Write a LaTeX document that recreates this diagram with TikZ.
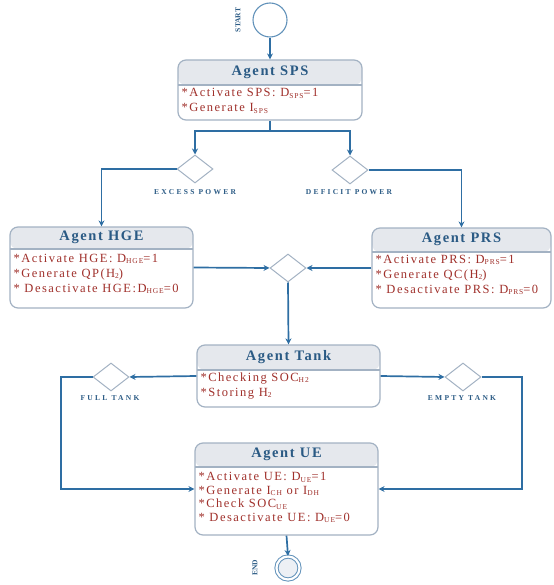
\documentclass[tikz,border=0pt]{standalone}
\usepackage{fontspec}
\setmainfont{Liberation Serif}
\newfontfamily\titlefont[LetterSpace=11]{Liberation Serif}
\newfontfamily\bodyfont[LetterSpace=12]{Liberation Serif}
\newfontfamily\lblfont[LetterSpace=30]{Liberation Serif}
\usetikzlibrary{shapes.geometric, arrows.meta}
\definecolor{flow}{HTML}{2E6EA3}
\definecolor{boxline}{HTML}{A3B2C3}
\definecolor{headfill}{HTML}{E5E8ED}
\definecolor{titleblue}{HTML}{2A5A84}
\definecolor{bodyred}{HTML}{A0302B}
\definecolor{endfill}{HTML}{EDF0F5}
\newcommand\lowsub[1]{\raisebox{-0.2ex}{\fontsize{7.5}{7.5}\selectfont #1}}

\begin{document}
\begin{tikzpicture}[x=1pt, y=-1pt, >={Stealth[length=6pt,width=6pt]},
    agent/.style={draw=boxline, line width=1.2pt, rounded corners=8pt, fill=white, inner sep=0pt},
    head/.style={path picture={
      \fill[headfill] (path picture bounding box.north west) rectangle ([yshift=-#1]path picture bounding box.north east);
      \draw[boxline, line width=1.2pt] ([yshift=-#1]path picture bounding box.north west) -- ([yshift=-#1]path picture bounding box.north east);}},
    title/.style={font=\titlefont\fontsize{14.5}{14.5}\selectfont\bfseries, text=titleblue, inner sep=0pt},
    body/.style={font=\bodyfont\fontsize{12.5}{15}\selectfont, text=bodyred, align=left, inner sep=1pt, anchor=north west},
    choice/.style={diamond, draw=boxline, line width=1pt, fill=white, minimum width=36pt, minimum height=28pt, inner sep=0pt},
    cond/.style={font=\lblfont\fontsize{7.5}{7.5}\selectfont\bfseries, text=titleblue, inner sep=0pt},
    flowline/.style={draw=flow, line width=1.7pt}]
  \useasboundingbox (0,0) rectangle (553,585);

  % start and end
  \node[circle, draw=flow!75, line width=1.1pt, fill=white, minimum size=34pt] (start) at (270,20) {};
  \node[cond, rotate=90, font=\fontsize{7.5}{7.5}\selectfont\bfseries] (startl) at (238,20) {START};
  \node[circle, draw=flow!75, line width=1pt, double=white, double distance=2.2pt, fill=endfill, minimum size=23pt] (finish) at (288,568) {};
  \node[cond, rotate=90, font=\fontsize{7.5}{7.5}\selectfont\bfseries] (finishl) at (255,568) {END};

  % agents
  \node[agent, head=25pt, minimum width=184pt, minimum height=60pt] (sps) at (270,90) {};
  \node[title] (spst) at ([yshift=-12.5pt]sps.north) {Agent SPS};
  \node[body] (spsb) at ([xshift=3pt,yshift=-28pt]sps.north west)
    {*Activate SPS: D\lowsub{SPS}=1\\*Generate I\lowsub{SPS}};

  \node[agent, head=22pt, minimum width=183pt, minimum height=81pt] (hge) at (101.5,267.5) {};
  \node[title] (hget) at ([yshift=-11pt]hge.north) {Agent HGE};
  \node[body] (hgeb) at ([xshift=3pt,yshift=-26.5pt]hge.north west)
    {*Activate HGE: D\lowsub{HGE}=1\\*Generate QP(H\lowsub{2})\\* Desactivate HGE:D\lowsub{HGE}=0};

  \node[agent, head=24pt, minimum width=179pt, minimum height=80pt] (prs) at (461.5,268) {};
  \node[title] (prst) at ([yshift=-12pt]prs.north) {Agent PRS};
  \node[body] (prsb) at ([xshift=3pt,yshift=-26.5pt]prs.north west)
    {*Activate PRS: D\lowsub{PRS}=1\\*Generate QC(H\lowsub{2})\\* Desactivate PRS: D\lowsub{PRS}=0};

  \node[agent, head=25pt, minimum width=183pt, minimum height=62pt] (tank) at (288.5,376) {};
  \node[title] (tankt) at ([yshift=-12.5pt]tank.north) {Agent Tank};
  \node[body] (tankb) at ([xshift=3pt,yshift=-27pt]tank.north west)
    {*Checking SOC\lowsub{H2}\\*Storing H\lowsub{2}};

  \node[agent, head=24pt, minimum width=183pt, minimum height=92pt] (ue) at (286.5,489) {};
  \node[title] (uet) at ([yshift=-12pt]ue.north) {Agent UE};
  \node[body, font=\bodyfont\fontsize{12.5}{13.5}\selectfont] (ueb) at ([xshift=3pt,yshift=-29pt]ue.north west)
    {*Activate UE: D\lowsub{UE}=1\\*Generate I\lowsub{CH} or I\lowsub{DH}\\*Check SOC\lowsub{UE}\\* Desactivate UE: D\lowsub{UE}=0};

  % decisions
  \node[choice] (excess) at (195,169) {};
  \node[cond] (excessl) at (195,192) {EXCESS POWER};
  \node[choice] (deficit) at (350,170) {};
  \node[cond] (deficitl) at (349,192) {DEFICIT POWER};
  \node[choice] (merge) at (288,268) {};
  \node[choice] (full) at (111,377) {};
  \node[cond] (fulll) at (110,398) {FULL TANK};
  \node[choice] (empty) at (463,377) {};
  \node[cond] (emptyl) at (462,398) {EMPTY TANK};

  \coordinate (split) at (270,131);
  \coordinate (fullc) at (61,377);
  \coordinate (emptyc) at (522,377);

  % flow
  \draw[flowline, ->] (start) -- (sps);
  \draw[flowline] (sps.south) -- (split);
  \draw[flowline, ->] (split) -| (excess.north);
  \draw[flowline, ->] (split) -| (deficit.north);
  \draw[flowline, ->] (excess.west) -| (hge.north);
  \draw[flowline, ->] (deficit.east) -| (prs.north);
  \draw[flowline, ->] (hge.east) -- (merge.west);
  \draw[flowline, ->] (prs.west) -- (merge.east);
  \draw[flowline, ->] (merge.south) -- (tank.north);
  \draw[flowline, ->] (tank.west) -- (full.east);
  \draw[flowline, ->] (tank.east) -- (empty.west);
  \draw[flowline, ->] (full.west) -- (fullc) |- (ue.west);
  \draw[flowline, ->] (empty.east) -- (emptyc) |- (ue.east);
  \draw[flowline, ->] (ue.south) -- (finish.north);
\end{tikzpicture}
\end{document}
